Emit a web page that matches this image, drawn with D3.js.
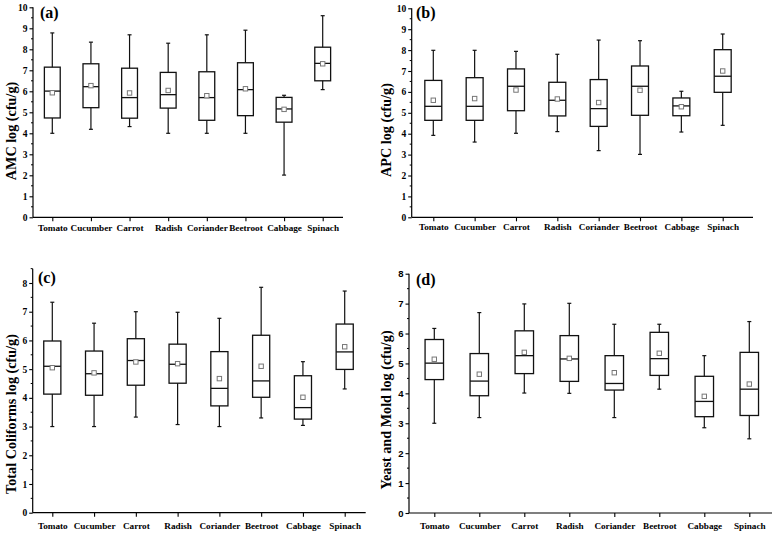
<!DOCTYPE html>
<html><head><meta charset="utf-8">
<script src="https://cdn.jsdelivr.net/npm/d3@7"></script>
<style>body{margin:0;background:#fff} svg{display:block}</style>
</head><body><svg id="c" width="775" height="533"></svg>
<script>
const categories = ["Tomato","Cucumber","Carrot","Radish","Coriander","Beetroot","Cabbage","Spinach"];

// (a) AMC log (cfu/g)
const amcLow  = [4.00,4.19,4.32,4.00,4.00,4.00,2.01,6.08];
const amcQ1   = [4.73,5.22,4.72,5.20,4.62,4.84,4.53,6.50];
const amcMed  = [6.01,6.22,5.70,5.84,5.70,6.08,5.16,7.33];
const amcQ3   = [7.15,7.31,7.10,6.90,6.93,7.36,5.71,8.10];
const amcHigh = [8.78,8.34,8.69,8.29,8.69,8.91,5.81,9.60];
const amcMean = [5.93,6.27,5.92,6.04,5.79,6.12,5.14,7.31];

// (b) APC log (cfu/g)
const apcLow  = [3.92,3.60,4.02,4.10,3.19,3.01,4.08,4.40];
const apcQ1   = [4.64,4.64,5.10,4.85,4.35,4.88,4.86,5.98];
const apcMed  = [5.31,5.31,6.27,5.60,5.20,6.27,5.33,6.75];
const apcQ3   = [6.55,6.68,7.10,6.46,6.59,7.24,5.71,8.02];
const apcHigh = [7.99,7.99,7.94,7.80,8.48,8.45,6.03,8.77];
const apcMean = [5.60,5.68,6.09,5.66,5.49,6.08,5.29,7.00];

// (c) Total Coliforms log (cfu/g)
const tcLow  = [3.00,3.00,3.33,3.07,3.00,3.30,3.04,4.31];
const tcQ1   = [4.13,4.09,4.44,4.51,3.72,4.02,3.26,4.99];
const tcMed  = [5.10,4.84,5.30,5.17,4.33,4.59,3.66,5.60];
const tcQ3   = [5.98,5.63,6.06,5.87,5.61,6.18,4.77,6.57];
const tcHigh = [7.33,6.60,7.00,6.98,6.77,7.85,5.26,7.72];
const tcMean = [5.05,4.87,5.25,5.19,4.67,5.10,4.02,5.78];

// (d) Yeast and Mold log (cfu/g)
const ymLow  = [3.00,3.19,4.01,4.00,3.19,4.14,2.85,2.48];
const ymQ1   = [4.46,3.92,4.66,4.40,4.11,4.60,3.22,3.26];
const ymMed  = [5.01,4.41,5.26,5.15,4.33,5.16,3.73,4.14];
const ymQ3   = [5.80,5.33,6.09,5.93,5.26,6.04,4.57,5.37];
const ymHigh = [6.17,6.70,6.99,7.01,6.31,6.31,5.26,6.40];
const ymMean = [5.14,4.64,5.37,5.17,4.69,5.34,3.90,4.31];

const yTicks10 = [0,1,2,3,4,5,6,7,8,9,10];
const yTicks8  = [0,1,2,3,4,5,6,7,8];

const panels = [
  {tag:"(a)", title:"AMC log (cfu/g)", low:amcLow,q1:amcQ1,med:amcMed,q3:amcQ3,high:amcHigh,mean:amcMean,
   ticks:yTicks10, ax0:33, ax1:343, c0:52.3, c1:322.7, yb:217.3, yt:7.3, vmax:10, axTop:10,
   tagX:40, tagY:18, titleX:13, titleY:131, catY:231.5, sans:false},
  {tag:"(b)", title:"APC log (cfu/g)", low:apcLow,q1:apcQ1,med:apcMed,q3:apcQ3,high:apcHigh,mean:apcMean,
   ticks:yTicks10, ax0:411.7, ax1:753, c0:433.3, c1:722.7, yb:217.3, yt:8.3, vmax:10, axTop:10,
   tagX:416, tagY:18, titleX:388, titleY:130, catY:230.5, sans:false},
  {tag:"(c)", title:"Total Coliforms log (cfu/g)", low:tcLow,q1:tcQ1,med:tcMed,q3:tcQ3,high:tcHigh,mean:tcMean,
   ticks:yTicks8, ax0:32.7, ax1:365.7, c0:52.3, c1:344.7, yb:512.7, yt:283, vmax:8, axTop:8.5,
   tagX:38, tagY:283, titleX:13, titleY:414, catY:529, sans:false},
  {tag:"(d)", title:"Yeast and Mold log (cfu/g)", low:ymLow,q1:ymQ1,med:ymMed,q3:ymQ3,high:ymHigh,mean:ymMean,
   ticks:yTicks8, ax0:409, ax1:772, c0:434.3, c1:749.3, yb:513, yt:273.7, vmax:8, axTop:8,
   tagX:416, tagY:285, titleX:388, titleY:410, catY:528.5, sans:true}
];

const svg = d3.select("#c");
const serif = "'Liberation Serif','Times New Roman',serif";
const sans = "'Liberation Sans',Arial,sans-serif";

panels.forEach(p => {
  const g = svg.append("g");
  const x = d3.scalePoint().domain(categories).range([p.c0, p.c1]);
  const y = d3.scaleLinear().domain([0, p.vmax]).range([p.yb, p.yt]);
  const step = x.step();
  const bw = step * 0.41;

  // Y axis
  const yAxis = d3.axisLeft(y).tickValues(p.ticks).tickSize(3.5).tickPadding(2).tickFormat(d3.format("d"));
  const ya = g.append("g").attr("transform", `translate(${p.ax0},0)`).call(yAxis);
  ya.select(".domain").attr("d", `M0,${y(p.axTop)}V${p.yb}`).attr("stroke","#000").attr("stroke-width",1.2);
  ya.selectAll(".tick line").attr("stroke","#000").attr("stroke-width",1.1);
  ya.selectAll(".tick text").attr("font-family", p.sans ? sans : serif).attr("font-weight","bold")
    .attr("font-size", 9.5).attr("fill","#000");
  // minor ticks
  const minors = d3.range(0.5, p.axTop + 0.01, 1);
  g.selectAll(null).data(minors).enter().append("line")
    .attr("x1", p.ax0 - 2).attr("x2", p.ax0).attr("y1", d => y(d)).attr("y2", d => y(d))
    .attr("stroke","#000").attr("stroke-width",1);

  // X axis
  const xAxis = d3.axisBottom(x).tickSize(4).tickPadding(4);
  const xa = g.append("g").attr("transform", `translate(0,${p.yb})`).call(xAxis);
  xa.select(".domain").attr("d", `M${p.ax0},0H${p.ax1}`).attr("stroke","#000").attr("stroke-width",1.2);
  xa.selectAll(".tick line").attr("stroke","#000").attr("stroke-width",1.1);
  xa.selectAll(".tick text").attr("font-family", serif).attr("font-weight","bold")
    .attr("font-size", 9.2).attr("fill","#000").attr("dy", null)
    .attr("y", p.catY - p.yb).attr("dominant-baseline","auto");

  // boxes
  const data = categories.map((c, i) => ({c, lo:p.low[i], q1:p.q1[i], md:p.med[i], q3:p.q3[i], hi:p.high[i], mn:p.mean[i]}));
  const b = g.selectAll(null).data(data).enter().append("g");
  b.append("line").attr("x1", d => x(d.c)).attr("x2", d => x(d.c))
    .attr("y1", d => y(d.hi)).attr("y2", d => y(d.q3)).attr("stroke","#111").attr("stroke-width",1.2);
  b.append("line").attr("x1", d => x(d.c)).attr("x2", d => x(d.c))
    .attr("y1", d => y(d.q1)).attr("y2", d => y(d.lo)).attr("stroke","#111").attr("stroke-width",1.2);
  b.append("line").attr("x1", d => x(d.c) - 2).attr("x2", d => x(d.c) + 2)
    .attr("y1", d => y(d.hi)).attr("y2", d => y(d.hi)).attr("stroke","#111").attr("stroke-width",1.2);
  b.append("line").attr("x1", d => x(d.c) - 2).attr("x2", d => x(d.c) + 2)
    .attr("y1", d => y(d.lo)).attr("y2", d => y(d.lo)).attr("stroke","#111").attr("stroke-width",1.2);
  b.append("rect").attr("x", d => x(d.c) - bw/2).attr("width", bw)
    .attr("y", d => y(d.q3)).attr("height", d => y(d.q1) - y(d.q3))
    .attr("fill","none").attr("stroke","#111").attr("stroke-width",1.3);
  b.append("line").attr("x1", d => x(d.c) - bw/2).attr("x2", d => x(d.c) + bw/2)
    .attr("y1", d => y(d.md)).attr("y2", d => y(d.md)).attr("stroke","#111").attr("stroke-width",1.3);
  b.append("rect").attr("x", d => x(d.c) - 2.2).attr("y", d => y(d.mn) - 2.2)
    .attr("width", 4.4).attr("height", 4.4).attr("fill","#fff").attr("stroke","#777").attr("stroke-width",1);

  // panel tag
  g.append("text").attr("x", p.tagX).attr("y", p.tagY).text(p.tag)
    .attr("font-family", serif).attr("font-weight","bold").attr("font-size",16).attr("fill","#000");
  // y title
  g.append("text").attr("transform", `translate(${p.titleX},${p.titleY}) rotate(-90)`)
    .attr("text-anchor","middle").attr("dominant-baseline","middle").text(p.title)
    .attr("font-family", serif).attr("font-weight","bold").attr("font-size",14.2).attr("fill","#000");
});
</script></body></html>
